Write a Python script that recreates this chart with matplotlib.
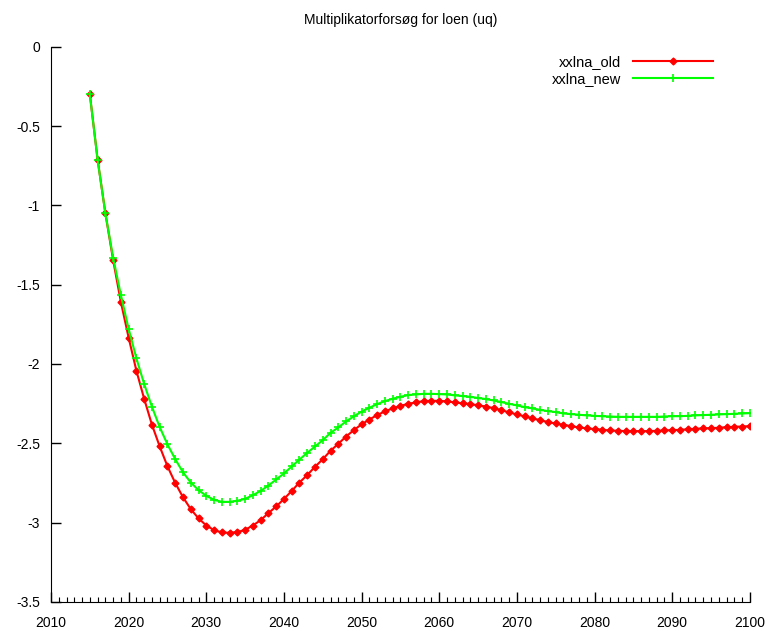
import matplotlib
matplotlib.use('Agg')
import matplotlib.pyplot as plt
from matplotlib.ticker import MultipleLocator

plt.rcParams['font.family'] = ['Liberation Sans', 'DejaVu Sans']
plt.rcParams['font.size'] = 10

years = list(range(2015, 2101))

xxlna_old = [
    -0.300, -0.712, -1.050, -1.345, -1.610, -1.835, -2.043, -2.220, -2.383, -2.520,
    -2.645, -2.750, -2.840, -2.915, -2.973, -3.018, -3.047, -3.062, -3.064, -3.060,
    -3.045, -3.018, -2.984, -2.940, -2.898, -2.851, -2.800, -2.747, -2.700, -2.648,
    -2.600, -2.547, -2.503, -2.457, -2.417, -2.380, -2.350, -2.322, -2.299, -2.280,
    -2.264, -2.251, -2.242, -2.234, -2.232, -2.232, -2.236, -2.242, -2.248, -2.253,
    -2.260, -2.268, -2.278, -2.291, -2.305, -2.318, -2.330, -2.343, -2.354, -2.366,
    -2.375, -2.383, -2.392, -2.400, -2.406, -2.410, -2.415, -2.419, -2.421, -2.423,
    -2.423, -2.423, -2.423, -2.421, -2.419, -2.417, -2.415, -2.412, -2.408, -2.406,
    -2.404, -2.402, -2.398, -2.396, -2.394, -2.392,
]

xxlna_new = [
    -0.300, -0.712, -1.050, -1.330, -1.566, -1.780, -1.965, -2.127, -2.270, -2.398,
    -2.507, -2.600, -2.683, -2.747, -2.795, -2.831, -2.856, -2.869, -2.869, -2.862,
    -2.850, -2.827, -2.800, -2.766, -2.728, -2.690, -2.646, -2.602, -2.560, -2.520,
    -2.480, -2.434, -2.400, -2.362, -2.330, -2.300, -2.276, -2.253, -2.234, -2.219,
    -2.207, -2.196, -2.192, -2.188, -2.188, -2.190, -2.192, -2.198, -2.202, -2.207,
    -2.214, -2.221, -2.230, -2.240, -2.251, -2.261, -2.272, -2.280, -2.289, -2.297,
    -2.303, -2.312, -2.316, -2.320, -2.324, -2.327, -2.329, -2.331, -2.333, -2.333,
    -2.333, -2.333, -2.333, -2.333, -2.331, -2.329, -2.329, -2.327, -2.324, -2.322,
    -2.320, -2.318, -2.316, -2.314, -2.312, -2.310,
]

fig = plt.figure(figsize=(7.73, 6.31), dpi=100)
ax = fig.add_axes([0.066, 0.046, 0.904, 0.880])

ax.plot(years, xxlna_old, color='#ff0000', linewidth=1.5, marker='D',
        markersize=3.5, markerfacecolor='#ff0000', label='xxlna_old')
ax.plot(years, xxlna_new, color='#00ff00', linewidth=1.5, marker='+',
        markersize=6, markeredgewidth=1.2, label='xxlna_new')

ax.set_xlim(2010, 2100)
ax.set_ylim(-3.5, 0)
ax.xaxis.set_major_locator(MultipleLocator(10))
ax.xaxis.set_minor_locator(MultipleLocator(1))
ax.set_yticks([0, -0.5, -1, -1.5, -2, -2.5, -3, -3.5])
ax.set_yticklabels(['0', '-0.5', '-1', '-1.5', '-2', '-2.5', '-3', '-3.5'])

ax.spines['top'].set_visible(False)
ax.spines['right'].set_visible(False)
ax.tick_params(which='major', direction='in', length=7, width=1, pad=8)
ax.tick_params(axis='x', which='major', pad=10)
ax.tick_params(which='minor', direction='in', length=3.5, width=0.8)
ax.tick_params(axis='y', which='minor', left=False)

ax.set_title('Multiplikatorforsøg for loen (uq)', fontsize=10, pad=16)

ax.legend(loc='upper right', bbox_to_anchor=(0.966, 1.009), frameon=False,
          markerfirst=False, handlelength=5.5, labelspacing=0.25, fontsize=10.5)

plt.savefig('out.png', dpi=100)
